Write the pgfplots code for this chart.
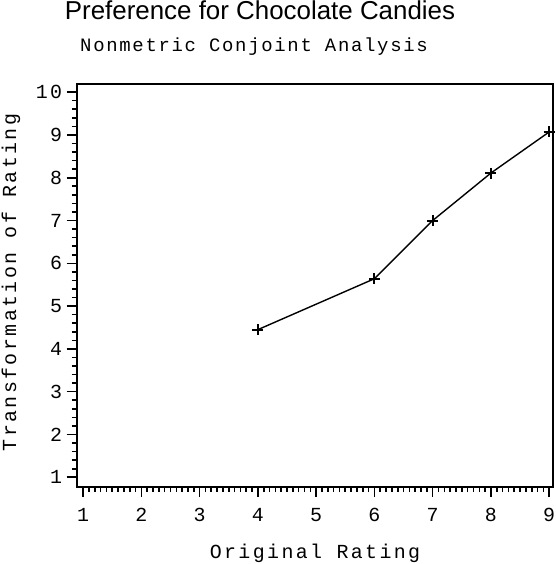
\documentclass[border=0pt]{standalone}
\usepackage{fontspec}
\usepackage{pgfplots}
\pgfplotsset{compat=1.18}
\setmainfont{Liberation Sans}
\newfontfamily\titlefont{Liberation Sans}
\newfontfamily\monofont[LetterSpace=12]{Liberation Mono}
\newfontfamily\subfont[LetterSpace=9]{Liberation Mono}

\pgfplotstableread{
x y
4 4.45
6 5.64
7 7.00
8 8.11
9 9.07
}\ratings

\begin{document}
\begin{tikzpicture}[x=1bp,y=1bp]
  \useasboundingbox (-76.7,-77.3) rectangle (479.3,486.7);
  \begin{axis}[
    at={(0,0)}, anchor=south west,
    scale only axis,
    width=476bp, height=402.7bp,
    xmin=0.89, xmax=9.06,
    ymin=0.78, ymax=10.19,
    xtick={1,...,9}, ytick={1,...,10},
    minor x tick num=9, minor y tick num=4,
    xtick pos=left, ytick pos=left,
    tick align=outside,
    major tick length=10bp, minor tick length=5bp,
    every tick/.style={black, line width=1.6bp},
    axis line style={line width=1.8bp},
    ticklabel style={font=\fontsize{20}{20}\monofont},
    /pgf/number format/assume math mode=true,
    xticklabel style={yshift=-8bp},
    yticklabel style={xshift=-1bp},
  ]
    \addplot[black, line width=1.4bp, mark=+, mark size=5.5bp,
      mark options={line width=2bp}] table[x=x, y=y] {\ratings};
  \end{axis}
  \node[anchor=base, font=\fontsize{26}{26}\titlefont] at (183.3,466.7) {Preference for Chocolate Candies};
  \node[anchor=base, font=\fontsize{19}{19}\subfont] at (177.3,434.7) {Nonmetric Conjoint Analysis};
  \node[anchor=base, font=\fontsize{20}{20}\monofont] at (238.3,-71.3) {Original Rating};
  \node[rotate=90, anchor=center, font=\fontsize{20}{20}\monofont] at (-65.7,204.2) {Transformation of Rating};
\end{tikzpicture}
\end{document}
